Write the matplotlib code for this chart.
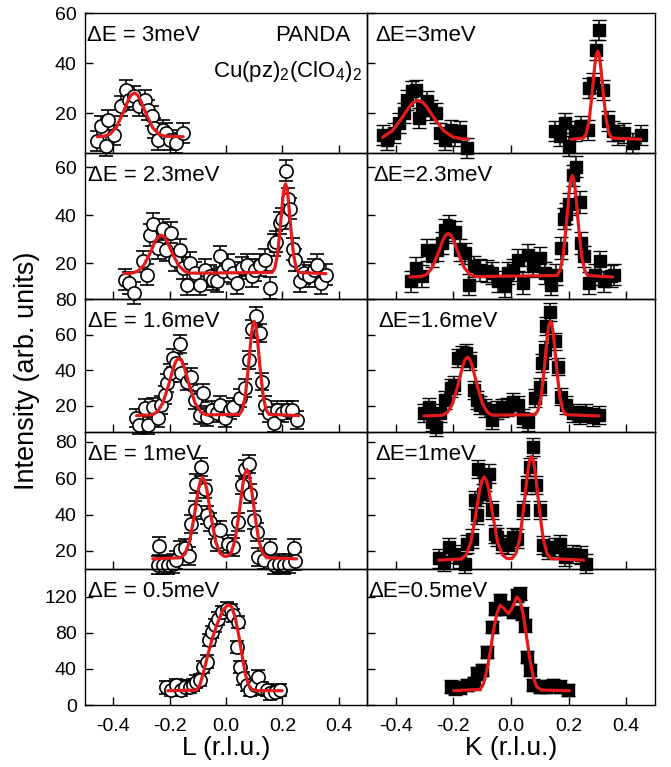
import numpy as np
import matplotlib.pyplot as plt

plt.rcParams['font.family'] = ['Liberation Sans', 'DejaVu Sans']
plt.rcParams['mathtext.fontset'] = 'custom'
plt.rcParams['mathtext.rm'] = 'Liberation Sans'
plt.rcParams['mathtext.it'] = 'Liberation Sans:italic'
plt.rcParams['axes.unicode_minus'] = False

nan = np.nan

########### Data ###########

# dE = 3 meV
L3_x = [-0.456, -0.444, -0.426, -0.417, -0.396, -0.373, -0.355, -0.343, -0.325, -0.307,
        -0.289, -0.277, -0.263, -0.254, -0.242, -0.224, -0.212, -0.200, -0.176, -0.152]
L3_y = [8.7, 14.7, 6.7, 17.3, 11.3, 22.7, 29.3, 25.3, 26.7, 22.7,
        25.3, 21.3, 18.7, 14.0, 9.3, 13.3, 12.0, 9.3, 8.0, 12.0]
K3_x = [-0.446, -0.429, -0.406, -0.389, -0.371, -0.360, -0.343, -0.331, -0.320, -0.308,
        -0.291, -0.279, -0.262, -0.245, -0.228, -0.210, -0.193, -0.176, -0.153,
        0.152, 0.169, 0.186, 0.203, 0.221, 0.244, 0.267, 0.272, 0.284, 0.295,
        0.305, 0.318, 0.336, 0.353, 0.370, 0.393, 0.422, 0.451]
K3_y = [11.3, 9.3, 12.0, 16.0, 20.0, 25.3, 28.7, 29.3, 18.0, 22.7,
        24.7, 21.3, 20.0, 12.0, 9.3, 13.3, 10.7, 12.7, 6.0,
        12.7, 10.7, 16.0, 6.7, 12.7, 14.7, 13.3, 30.0, 32.0, 45.3,
        53.3, 29.3, 16.7, 12.7, 11.3, 12.0, 8.0, 11.3]
fitL3_x = [-0.456, -0.4325, -0.411, -0.3895, -0.368, -0.3465, -0.3358, -0.325, -0.3142,
           -0.3035, -0.282, -0.2605, -0.239, -0.2175, -0.152]
fitL3_y = [10.5, 10.7, 11.6, 14.2, 19.3, 25.2, 27.3, 28.0, 27.3, 25.2, 19.3, 14.2, 11.6, 10.7, 10.5]
fitK3_x = [-0.446, -0.413, -0.383, -0.353, -0.338, -0.323, -0.308, -0.293, -0.263, -0.233,
           -0.203, -0.173, -0.147, nan,
           0.209, 0.251, 0.261, 0.271, 0.281, 0.291, 0.296, 0.301, 0.306, 0.311,
           0.321, 0.331, 0.341, 0.351, 0.451]
fitK3_y = [10.3, 12.8, 17.3, 22.5, 24.4, 25.0, 24.4, 22.5, 17.3, 12.8, 10.5, 9.7, 9.5, nan,
           9.5, 9.96, 11.7, 16.9, 27.1, 39.1, 43.2, 44.7, 43.2, 39.1, 27.1, 16.9, 11.7, 9.96, 9.5]

# dE = 2.3 meV
L23_x = [-0.357, -0.343, -0.325, -0.295, -0.281, -0.271, -0.260, -0.242, -0.224, -0.212,
         -0.194, -0.182, -0.164, -0.152, -0.140, -0.129, -0.111, -0.093, -0.075, -0.057,
         -0.045, -0.033, -0.021, -0.010, 0.008, 0.026, 0.038, 0.056, 0.074, 0.092,
         0.104, 0.121, 0.139, 0.157, 0.169, 0.179, 0.190, 0.199, 0.211, 0.220,
         0.226, 0.238, 0.246, 0.262, 0.276, 0.294, 0.312, 0.321, 0.336, 0.354]
L23_y = [13.1, 11.7, 7.6, 20.7, 15.2, 31.7, 36.3, 26.2, 34.1, 25.5,
         32.7, 21.4, 25.5, 17.9, 11.0, 20.0, 15.9, 11.0, 17.2, 14.5,
         13.1, 12.4, 22.8, 16.6, 19.3, 15.9, 11.7, 17.9, 19.3, 14.5,
         17.2, 19.3, 21.4, 9.7, 27.6, 29.0, 36.8, 38.6, 58.6, 46.9,
         42.8, 25.8, 21.4, 12.4, 15.9, 14.5, 17.2, 19.3, 11.7, 15.2]
K23_x = [-0.348, -0.331, -0.308, -0.291, -0.274, -0.256, -0.239, -0.228, -0.216, -0.193,
         -0.176, -0.159, -0.147, -0.130, -0.107, -0.084, -0.067, -0.044, -0.021, -0.009,
         0.008, 0.025, 0.043, 0.060, 0.077, 0.100, 0.117, 0.140, 0.157, 0.175,
         0.183, 0.192, 0.203, 0.215, 0.224, 0.238, 0.244, 0.255, 0.272, 0.290,
         0.309, 0.324, 0.347, 0.359]
K23_y = [12.4, 17.9, 14.5, 25.5, 22.8, 25.5, 28.3, 33.8, 35.4, 33.1,
         25.5, 24.1, 11.0, 18.6, 17.2, 16.6, 15.9, 12.4, 10.3, 15.9,
         17.2, 21.4, 11.7, 23.4, 18.6, 22.1, 15.9, 11.0, 15.2, 26.2,
         38.6, 40.7, 44.8, 56.6, 60.3, 45.5, 28.3, 22.8, 11.7, 15.2,
         20.7, 12.4, 14.5, 15.2]
fitL23_x = [-0.361, -0.334, -0.313, -0.292, -0.2715, -0.251, -0.2404, -0.23, -0.2196, -0.209,
            -0.1885, -0.168, -0.147, -0.126, 0.1635, 0.173, 0.1825, 0.192, 0.2015, 0.2063,
            0.211, 0.2158, 0.2205, 0.23, 0.2395, 0.249, 0.2585, 0.354]
fitL23_y = [15.6, 15.8, 16.6, 19.0, 23.65, 29.1, 31.0, 31.7, 31.0, 29.1,
            23.65, 19.0, 16.6, 15.8, 16.1, 17.9, 23.5, 34.4, 47.1, 51.5,
            53.1, 51.5, 47.1, 34.4, 23.5, 17.9, 16.1, 15.6]
fitK23_x = [-0.351, -0.312, -0.293, -0.274, -0.2555, -0.237, -0.2274, -0.218, -0.2086, -0.199,
            -0.1805, -0.162, -0.143, -0.124, 0.159, 0.170, 0.181, 0.1915, 0.202, 0.2076,
            0.213, 0.2184, 0.224, 0.2345, 0.245, 0.256, 0.267, 0.353]
fitK23_y = [14.2, 14.4, 15.3, 18.0, 23.3, 29.5, 31.6, 32.4, 31.6, 29.5,
            23.3, 18.0, 15.3, 14.4, 14.8, 16.9, 23.1, 35.4, 49.9, 54.8,
            56.6, 54.8, 49.9, 35.4, 23.1, 16.9, 14.8, 14.2]

# dE = 1.6 meV
L16_x = [-0.319, -0.307, -0.289, -0.277, -0.260, -0.242, -0.230, -0.218, -0.210, -0.200,
         -0.188, -0.176, -0.162, -0.158, -0.140, -0.123, -0.111, -0.093, -0.081, -0.069,
         -0.051, -0.033, -0.021, -0.004, 0.014, 0.026, 0.050, 0.068, 0.083, 0.093,
         0.105, 0.121, 0.127, 0.139, 0.151, 0.169, 0.181, 0.199, 0.217, 0.235, 0.252]
L16_y = [13.1, 9.3, 18.7, 9.3, 19.6, 13.1, 20.6, 26.2, 33.1, 38.4,
         46.8, 44.0, 54.9, 38.4, 33.7, 36.5, 23.4, 14.9, 27.1, 14.0,
         17.7, 15.9, 20.6, 13.1, 17.7, 19.6, 24.3, 29.9, 45.9, 63.2,
         70.3, 60.9, 33.7, 20.6, 15.9, 10.2, 17.7, 15.9, 17.7, 17.7, 12.1]
K16_x = [-0.302, -0.285, -0.274, -0.262, -0.245, -0.228, -0.210, -0.199, -0.185, -0.170,
         -0.155, -0.144, -0.130, -0.118, -0.107, -0.090, -0.067, -0.049, -0.032, -0.015,
         0.008, 0.025, 0.043, 0.060, 0.083, 0.100, 0.109, 0.117, 0.123, 0.137,
         0.152, 0.163, 0.175, 0.192, 0.215, 0.238, 0.261, 0.284, 0.307]
K16_y = [15.9, 19.6, 11.2, 8.4, 15.9, 23.4, 29.9, 31.8, 46.8, 48.7,
         49.6, 45.0, 29.0, 23.4, 20.6, 18.7, 12.1, 17.7, 18.7, 19.6,
         22.4, 20.6, 13.1, 11.2, 24.3, 30.9, 44.0, 51.5, 64.7, 72.5,
         56.2, 42.1, 25.3, 20.6, 15.9, 14.9, 15.9, 14.0, 14.9]
fitL16_x = [-0.317, -0.263, -0.244, -0.225, -0.2055, -0.186, -0.1766, -0.167, -0.1574, -0.148,
            -0.1285, -0.109, -0.09, -0.071, 0.0475, 0.058, 0.0685, 0.079, 0.0895, 0.0947,
            0.1, 0.1053, 0.1105, 0.121, 0.1315, 0.142, 0.1525, 0.258]
fitL16_y = [14.6, 15.0, 16.6, 21.4, 30.7, 41.7, 45.4, 46.8, 45.4, 41.7,
            30.7, 21.4, 16.6, 15.0, 15.3, 17.9, 25.7, 41.05, 59.1, 65.3,
            67.5, 65.3, 59.1, 41.05, 25.7, 17.9, 15.3, 14.6]
fitK16_x = [-0.302, -0.237, -0.22, -0.203, -0.1855, -0.168, -0.1596, -0.151, -0.1424, -0.134,
            -0.1165, -0.099, -0.082, -0.065, 0.083, 0.094, 0.105, 0.1155, 0.126, 0.1316,
            0.137, 0.1424, 0.148, 0.1585, 0.169, 0.18, 0.191, 0.305]
fitK16_y = [14.4, 14.8, 16.5, 21.3, 30.9, 42.2, 46.0, 47.4, 46.0, 42.2,
            30.9, 21.3, 16.5, 14.8, 15.1, 17.7, 25.6, 40.95, 59.1, 65.3,
            67.5, 65.3, 59.1, 40.95, 25.6, 17.7, 15.1, 14.4]

# dE = 1 meV
L1_x = [-0.242, -0.236, -0.224, -0.206, -0.188, -0.176, -0.164, -0.146, -0.131, -0.123,
        -0.111, -0.105, -0.090, -0.075, -0.069, -0.057, -0.039, -0.033, -0.021, 0.008,
        0.026, 0.044, 0.056, 0.068, 0.080, 0.086, 0.098, 0.110, 0.115, 0.133,
        0.157, 0.169, 0.187, 0.205, 0.223, 0.240, 0.246]
L1_y = [12.1, 22.6, 12.1, 12.1, 13.0, 14.9, 20.4, 21.3, 17.1, 35.0,
        42.4, 57.1, 66.2, 54.3, 39.6, 36.0, 31.4, 25.0, 31.4, 24.0,
        22.2, 36.0, 56.1, 65.3, 68.1, 51.6, 36.9, 30.5, 16.7, 14.9,
        21.3, 12.1, 13.0, 12.1, 13.0, 21.3, 14.5]
K1_x = [-0.251, -0.233, -0.216, -0.199, -0.176, -0.159, -0.153, -0.136, -0.124, -0.118,
        -0.113, -0.098, -0.090, -0.078, -0.067, -0.055, -0.047, -0.032, -0.009, 0.008,
        0.022, 0.043, 0.054, 0.066, 0.075, 0.086, 0.100, 0.111, 0.129, 0.152,
        0.169, 0.186, 0.215, 0.244, 0.261]
K1_y = [15.8, 13.9, 22.2, 18.5, 15.8, 13.0, 24.0, 26.8, 47.9, 39.6,
        65.3, 51.6, 58.0, 62.6, 42.4, 29.5, 27.7, 24.0, 23.1, 27.7,
        26.8, 42.4, 56.1, 66.2, 77.2, 56.1, 42.4, 23.1, 20.4, 22.2,
        24.0, 16.7, 18.5, 17.6, 13.0]
fitL1_x = [-0.26, -0.1605, -0.145, -0.1295, -0.114, -0.0985, -0.0908, -0.083, -0.0752, -0.0675,
           -0.052, -0.0365, -0.021, -0.0055, 0.004, 0.018, 0.032, 0.046, 0.060, 0.067,
           0.074, 0.081, 0.088, 0.102, 0.116, 0.13, 0.144, 0.25]
fitL1_y = [15.6, 16.2, 18.4, 25.0, 38.0, 53.3, 58.5, 60.4, 58.5, 53.3,
           38.0, 25.0, 18.6, 17.0, 17.0, 18.7, 25.9, 40.2, 57.0, 62.7,
           64.8, 62.7, 57.0, 40.2, 25.9, 18.7, 16.2, 15.6]
fitK1_x = [-0.251, -0.172, -0.156, -0.14, -0.1245, -0.109, -0.1009, -0.093, -0.0851, -0.077,
           -0.0615, -0.046, -0.03, -0.014, 0.0035, 0.017, 0.0305, 0.044, 0.0575, 0.0642,
           0.071, 0.0778, 0.0845, 0.098, 0.1115, 0.125, 0.1385, 0.252]
fitK1_y = [14.9, 15.5, 17.8, 24.5, 37.8, 53.4, 58.8, 60.7, 58.8, 53.4,
           37.8, 24.5, 17.8, 15.8, 15.8, 18.5, 26.9, 43.5, 63.0, 69.7,
           72.1, 69.7, 63.0, 43.5, 26.9, 18.5, 15.7, 14.9]

# dE = 0.5 meV
L05_x = [-0.212, -0.194, -0.176, -0.158, -0.146, -0.129, -0.117, -0.105, -0.093, -0.081,
         -0.069, -0.060, -0.051, -0.039, -0.027, -0.015, 0.002, 0.017, 0.026, 0.038,
         0.044, 0.050, 0.060, 0.074, 0.086, 0.104, 0.115, 0.127, 0.145, 0.157, 0.175, 0.193]
L05_y = [19.6, 16.6, 22.1, 16.6, 20.3, 20.3, 22.1, 25.8, 27.7, 42.4,
         48.0, 72.0, 81.2, 88.6, 95.9, 103.3, 107.0, 105.2, 99.6, 64.6,
         92.3, 42.4, 29.5, 22.1, 16.6, 22.1, 31.4, 18.5, 16.6, 12.9, 14.8, 16.6]
K05_x = [-0.210, -0.193, -0.176, -0.153, -0.130, -0.118, -0.101, -0.084, -0.067, -0.055,
         -0.038, -0.026, -0.009, 0.008, 0.020, 0.031, 0.037, 0.048, 0.054, 0.066,
         0.077, 0.100, 0.123, 0.146, 0.169, 0.198]
K05_y = [20.3, 18.5, 19.6, 22.1, 24.0, 35.1, 38.7, 59.0, 86.7, 107.0,
         116.2, 107.0, 108.9, 103.3, 121.8, 123.6, 101.5, 88.6, 53.5, 38.7,
         22.1, 20.3, 20.3, 22.1, 20.3, 16.6]
fitL05_x = [-0.206, -0.105, -0.093, -0.081, -0.069, -0.057, -0.045, -0.033, -0.021, -0.010,
            0.008, 0.020, 0.032, 0.044, 0.056, 0.068, 0.080, 0.092, 0.110, 0.199]
fitL05_y = [15.9, 16.6, 22.0, 35.0, 50.0, 64.6, 77.5, 88.6, 97.8, 106.0,
            111.4, 108.9, 97.8, 79.3, 57.2, 35.0, 22.0, 17.3, 15.9, 15.9]
fitK05_x = [-0.199, -0.107, -0.095, -0.084, -0.072, -0.061, -0.049, -0.038, -0.024, -0.009,
            0.006, 0.020, 0.031, 0.043, 0.054, 0.066, 0.077, 0.089, 0.106, 0.203]
fitK05_y = [15.9, 17.3, 24.0, 38.7, 59.0, 83.0, 101.5, 110.7, 107.0, 101.5,
            108.9, 119.9, 116.2, 99.6, 75.6, 49.8, 31.4, 20.3, 16.6, 15.9]

# per row: labels, axis ranges, ticks, error bar size
left_labels = ['\u0394E = 3meV', '\u0394E = 2.3meV', '\u0394E = 1.6meV', '\u0394E = 1meV', '\u0394E = 0.5meV']
right_labels = ['\u0394E=3meV', '\u0394E=2.3meV', '\u0394E=1.6meV', '\u0394E=1meV', '\u0394E=0.5meV']
ylims = [(4, 60), (5, 66), (5.4, 80), (10, 85.5), (0, 151)]
yticks = [[20, 40, 60], [20, 40, 60], [20, 40, 60, 80], [20, 40, 60, 80], [0, 40, 80, 120]]
errs = [4, 4.5, 5, 5, 7]
xticks = [-0.4, -0.2, 0.0, 0.2, 0.4]
xticklabels = ['-0.4', '-0.2', '0.0', '0.2', '0.4']

left_data = [(L3_x, L3_y, fitL3_x, fitL3_y), (L23_x, L23_y, fitL23_x, fitL23_y),
             (L16_x, L16_y, fitL16_x, fitL16_y), (L1_x, L1_y, fitL1_x, fitL1_y),
             (L05_x, L05_y, fitL05_x, fitL05_y)]
right_data = [(K3_x, K3_y, fitK3_x, fitK3_y), (K23_x, K23_y, fitK23_x, fitK23_y),
              (K16_x, K16_y, fitK16_x, fitK16_y), (K1_x, K1_y, fitK1_x, fitK1_y),
              (K05_x, K05_y, fitK05_x, fitK05_y)]

# label offsets from top-left corner, in pixels
left_dx = [2, 3, 3, 3, 3]
right_dx = [8, 6, 11, 8, 1]

RED = '#e41a1c'

################# Figure #################

fig = plt.figure(figsize=(6.71, 7.67), dpi=100)
gs = fig.add_gridspec(5, 2, left=85/671, right=655/671, top=1-13/767, bottom=1-705/767,
                      wspace=0, hspace=0, width_ratios=[282, 288],
                      height_ratios=[140, 146, 133, 137, 136])

px = 0.72  # points per pixel

for r in range(5):
    for c in range(2):
        ax = fig.add_subplot(gs[r, c])
        ax.patch.set_visible(False)
        if c == 0:
            xs, ys, fx, fy = left_data[r]
            cont = ax.errorbar(xs, ys, yerr=errs[r], fmt='o', ms=9.5, mfc='white', mec='black',
                               mew=1.2, ecolor='black', elinewidth=1.1, capsize=4.8,
                               capthick=1.1, zorder=2)
            lab, dx = left_labels[r], left_dx[r]
        else:
            xs, ys, fx, fy = right_data[r]
            cont = ax.errorbar(xs, ys, yerr=errs[r], fmt='s', ms=8.5, mfc='black', mec='black',
                               mew=1.0, ecolor='black', elinewidth=1.1, capsize=4.8,
                               capthick=1.1, zorder=2)
            lab, dx = right_labels[r], right_dx[r]
        for art in cont.get_children():
            art.set_clip_on(False)
        ax.plot(fx, fy, color=RED, lw=2.3, zorder=3, solid_joinstyle='round',
                solid_capstyle='round')

        ax.set_xlim(-0.5, 0.5)
        ax.set_ylim(*ylims[r])
        ax.set_xticks(xticks)
        ax.set_yticks(yticks[r])
        ax.tick_params(direction='in', length=6, width=1, labelsize=14, pad=6)
        ax.tick_params(axis='x', pad=9)
        if c == 1:
            ax.tick_params(labelleft=False)
        if r < 4:
            ax.tick_params(labelbottom=False)
        else:
            ax.set_xticklabels(xticklabels)
            ax.set_xlabel('L (r.l.u.)' if c == 0 else 'K (r.l.u.)', fontsize=19, labelpad=1)
        for sp in ax.spines.values():
            sp.set_linewidth(1.0)

        ax.annotate(lab, xy=(0, 1), xycoords='axes fraction',
                    xytext=(dx*px, -28*px), textcoords='offset points',
                    fontsize=16, ha='left', va='baseline')

        if r == 0 and c == 0:
            ax.annotate('PANDA', xy=(1, 1), xycoords='axes fraction',
                        xytext=(-17*px, -28*px), textcoords='offset points',
                        fontsize=16, ha='right', va='baseline')
            ax.annotate(r'Cu(pz)$_2$(ClO$_4$)$_2$', xy=(1, 1), xycoords='axes fraction',
                        xytext=(-5*px, -64*px), textcoords='offset points',
                        fontsize=16, ha='right', va='baseline')

fig.text(27/671, 1-371/767, 'Intensity (arb. units)', rotation=90,
         ha='center', va='center', fontsize=19.5)

fig.savefig('out.png', dpi=100)
